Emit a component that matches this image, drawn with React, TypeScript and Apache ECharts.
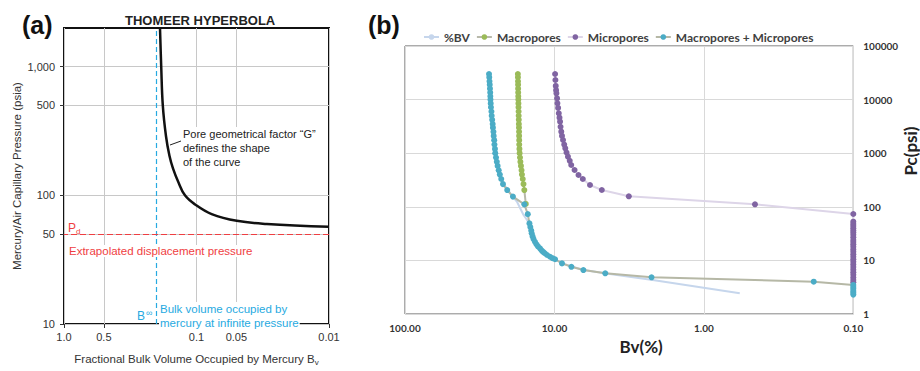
import React, { useEffect, useRef } from 'react';
import * as echarts from 'echarts';

// ---------- Panel (a): Thomeer hyperbola ----------
const thomeerBv = [0.1886, 0.1846, 0.1796, 0.1699, 0.16, 0.1505, 0.1372, 0.1222, 0.1026, 0.0768, 0.0497, 0.0295, 0.01];
const thomeerPc = [2000, 1000, 500, 288, 203, 162, 127, 100, 85, 71.5, 63.4, 60, 57.0];
const aXTicks = [1, 0.5, 0.1, 0.05, 0.01];
const aYTicks = [10, 50, 100, 500, 1000];
const bInfinity = 0.2;
const pDisplacement = 50;

// ---------- Panel (b): Bv(%) vs Pc(psi) ----------
const bvPctBV = [27.4, 26.8, 24.8, 23.0, 21.5, 19.5, 17.8, 16.1, 14.7, 14.2, 13.5, 12.5, 11.5, 10.6, 9.9, 8.8, 7.6, 6.3, 4.5, 2.2, 0.575];
const pcPctBV = [30000, 10000, 1000, 400, 250, 170, 124, 70.3, 49.2, 32, 22.3, 16.8, 13.6, 11.7, 10.5, 8.8, 7.6, 6.6, 5.7, 4.3, 2.43];

const bvMacro = [17.57, 17.55, 17.53, 17.51, 17.5, 17.48, 17.46, 17.44, 17.42, 17.4, 17.37, 17.35, 17.32, 17.3, 17.27, 17.25, 17.23, 17.21, 17.2, 17.15, 17.1, 17.0, 16.9, 16.75, 16.6, 16.5, 16.3, 16.1, 15.9, 15.55];
const pcMacro = [30000, 26000, 22000, 19000, 16000, 13500, 11500, 10000, 8500, 7200, 6000, 5000, 4200, 3500, 3000, 2500, 2100, 1750, 1450, 1200, 1000, 830, 690, 580, 480, 400, 330, 265, 205, 113];

const bvMicro = [9.9, 9.85, 9.8, 9.75, 9.7, 9.6, 9.55, 9.45, 9.35, 9.25, 9.17, 9.1, 9.0, 8.9, 8.76, 8.6, 8.46, 8.3, 8.12, 7.9, 7.72, 7.33, 6.9, 6.46, 5.78, 4.82, 3.18, 0.455, 0.1,
  0.1, 0.1, 0.1, 0.1, 0.1, 0.1, 0.1, 0.1, 0.1, 0.1, 0.1, 0.1, 0.1, 0.1, 0.1, 0.1, 0.1, 0.1, 0.1, 0.1, 0.1, 0.1, 0.1, 0.1, 0.1, 0.1];
const pcMicro = [30000, 23200, 18000, 15000, 13100, 10500, 8530, 7000, 5550, 4600, 3870, 3100, 2520, 2100, 1762, 1450, 1234, 1030, 860, 720, 603, 486, 392, 330, 255, 206, 157, 111.4, 73.4,
  52.7, 48, 44, 40, 36, 33, 30, 27, 24, 22, 20, 18, 16, 14.5, 13, 11.7, 10.5, 9.4, 8.4, 7.5, 6.7, 6.0, 5.4, 4.8, 4.3, 3.9];

const bvTotal = [27.4, 27.3, 27.2, 27.1, 27.0, 26.9, 26.85, 26.8, 26.7, 26.6, 26.4, 26.3, 26.1, 25.9, 25.8, 25.6, 25.5, 25.3, 25.2, 25.0, 24.9, 24.6, 24.3, 24.0, 23.6, 23.2, 22.7, 22.1, 20.7, 18.96, 15.9, 15.08, 14.7,
  14.5, 14.3, 14.2, 14.0, 13.8, 13.5, 13.2, 12.9, 12.5, 12.2, 11.9, 11.6, 11.2, 10.7, 10.3, 9.9, 8.9, 7.7, 6.4, 4.57, 2.24, 0.184, 0.1, 0.1, 0.1, 0.1, 0.1, 0.1];
const pcTotal = [30000, 26000, 22000, 19000, 16000, 13500, 11500, 10000, 8500, 7200, 6000, 5000, 4200, 3500, 3000, 2500, 2100, 1750, 1450, 1200, 1000, 830, 690, 580, 480, 400, 330, 265, 205, 155, 111, 73, 49,
  42, 36, 32, 28, 25, 22.3, 20, 18.3, 16.8, 15.4, 14.4, 13.6, 12.6, 11.7, 11.0, 10.5, 8.8, 7.6, 6.6, 5.74, 4.83, 4.01, 3.48, 3.2, 2.95, 2.7, 2.5, 2.3];

const legendNames = ['%BV', 'Macropores', 'Micropores', 'Macropores + Micropores'];

const pairs = (xs: number[], ys: number[]) => xs.map((x, i) => [x, ys[i]]);

const fontA = "'Liberation Sans', Arial, sans-serif";
const fontB = "Lato, 'Open Sans', sans-serif";
const red = '#ef3e42';
const blue = '#27aae1';

export default function App() {
  const ref = useRef<HTMLDivElement>(null);
  useEffect(() => {
    document.body.style.margin = '0';
    if (!ref.current) return;
    const chart = echarts.init(ref.current, null, { renderer: 'svg' });
    const option: any = {
      animation: false,
      backgroundColor: '#fff',
      title: [
        { text: 'THOMEER HYPERBOLA', left: 120, top: 9, textStyle: { fontFamily: fontA, fontSize: 13, fontWeight: 'bold', color: '#222' } },
        { text: '(a)', left: 17, top: 7, textStyle: { fontFamily: fontA, fontSize: 25, fontWeight: 'bold', color: '#111' } },
        { text: '(b)', left: 363, top: 7, textStyle: { fontFamily: fontA, fontSize: 25, fontWeight: 'bold', color: '#111' } },
      ],
      legend: {
        left: 418, top: 26, itemWidth: 15, itemHeight: 7, itemGap: 6,
        data: legendNames,
        textStyle: { fontFamily: fontB, fontSize: 12, fontWeight: 'bold', color: '#404040' },
      },
      grid: [
        { left: 64, top: 28, width: 265, height: 305, show: true, borderColor: '#111', borderWidth: 2, backgroundColor: 'transparent' },
        { left: 405, top: 46, width: 454, height: 268, show: true, borderColor: '#595959', borderWidth: 1, backgroundColor: 'transparent' },
      ],
      xAxis: [
        {
          type: 'log', gridIndex: 0, min: 0.01, max: 1, inverse: true,
          name: 'Fractional Bulk Volume Occupied by Mercury B{sub|v}',
          nameLocation: 'middle', nameGap: 27,
          nameTextStyle: { fontFamily: fontA, fontSize: 11.5, color: '#333', rich: { sub: { fontFamily: fontA, fontSize: 8, color: '#333', padding: [7, 0, 0, 0] } } },
          axisLine: { show: false },
          axisTick: { show: true, length: 4, customValues: aXTicks, lineStyle: { color: '#333' } },
          axisLabel: { customValues: aXTicks, margin: 7, fontFamily: fontA, fontSize: 11, color: '#333', formatter: (v: number) => (v === 1 ? '1.0' : String(v)) },
          splitLine: { show: true, lineStyle: { color: '#c8c8c8', width: 1 } },
        },
        {
          type: 'log', gridIndex: 1, min: 0.1, max: 100, inverse: true,
          name: 'Bv(%)', nameLocation: 'middle', nameGap: 24,
          nameTextStyle: { fontFamily: fontB, fontSize: 17, fontWeight: 'bold', color: '#222', padding: [0, 0, 0, 24] },
          axisLine: { show: false },
          axisTick: { show: false },
          axisLabel: { margin: 9, fontFamily: fontB, fontSize: 10, fontWeight: 'bold', color: '#333', formatter: (v: number) => v.toFixed(2) },
          splitLine: { show: true, lineStyle: { color: '#d9d9d9', width: 1 } },
        },
      ],
      yAxis: [
        {
          type: 'log', gridIndex: 0, min: 10, max: 2000,
          name: 'Mercury/Air Capillary Pressure (psia)', nameLocation: 'middle', nameGap: 41,
          nameTextStyle: { fontFamily: fontA, fontSize: 11.5, color: '#333' },
          axisLine: { show: false },
          axisTick: { show: true, length: 4, customValues: aYTicks, lineStyle: { color: '#333' } },
          axisLabel: { customValues: aYTicks, margin: 9, fontFamily: fontA, fontSize: 11, color: '#333', formatter: (v: number) => (v === 1000 ? '1,000' : String(v)) },
          splitLine: { show: true, lineStyle: { color: '#c8c8c8', width: 1 } },
        },
        {
          type: 'log', gridIndex: 1, min: 1, max: 100000, position: 'right',
          name: 'Pc(psi)', nameLocation: 'middle', nameGap: 44,
          nameTextStyle: { fontFamily: fontB, fontSize: 17, fontWeight: 'bold', color: '#222', padding: [0, 0, 0, 58] },
          axisLine: { show: false },
          axisTick: { show: false },
          axisLabel: { margin: 10, fontFamily: fontB, fontSize: 10, fontWeight: 'bold', color: '#333', formatter: (v: number) => String(Math.round(v)) },
          splitLine: { show: true, lineStyle: { color: '#d9d9d9', width: 1 } },
        },
      ],
      series: [
        {
          name: 'Thomeer', type: 'line', xAxisIndex: 0, yAxisIndex: 0, smooth: 0.4, symbol: 'none',
          data: pairs(thomeerBv, thomeerPc),
          lineStyle: { color: '#111', width: 2.5 },
          markLine: {
            silent: true, symbol: 'none', label: { show: false },
            data: [
              { xAxis: bInfinity, lineStyle: { color: blue, type: [5, 3], width: 1.2 } },
              { yAxis: pDisplacement, lineStyle: { color: red, type: [6, 3], width: 1.2 } },
            ],
          },
        },
        {
          name: '%BV', type: 'line', xAxisIndex: 1, yAxisIndex: 1, symbol: 'none', clip: false,
          data: pairs(bvPctBV, pcPctBV),
          itemStyle: { color: '#c6d6ec' },
          lineStyle: { color: '#c6d6ec', width: 2 },
        },
        {
          name: 'Macropores', type: 'line', xAxisIndex: 1, yAxisIndex: 1, symbol: 'circle', symbolSize: 6, clip: false,
          data: pairs(bvMacro, pcMacro),
          itemStyle: { color: '#9bbb59' },
          lineStyle: { color: '#b8b9ab', width: 2 },
        },
        {
          name: 'Micropores', type: 'line', xAxisIndex: 1, yAxisIndex: 1, symbol: 'circle', symbolSize: 6, clip: false,
          data: pairs(bvMicro, pcMicro),
          itemStyle: { color: '#8064a2' },
          lineStyle: { color: '#ddd5e8', width: 2 },
        },
        {
          name: 'Macropores + Micropores', type: 'line', xAxisIndex: 1, yAxisIndex: 1, symbol: 'circle', symbolSize: 6, clip: false,
          data: pairs(bvTotal, pcTotal),
          itemStyle: { color: '#4bacc6' },
          lineStyle: { color: '#b6b8a6', width: 2 },
        },
      ],
      graphic: [
        { type: 'text', z: 100, left: 182, top: 127, style: { text: 'Pore geometrical factor \u201CG\u201D\ndefines the shape\nof the curve', fontFamily: fontA, fontSize: 11, lineHeight: 14, fill: '#222', backgroundColor: '#fff', padding: [0, 1, 0, 1] } },
        { type: 'line', z: 100, shape: { x1: 181, y1: 141, x2: 170, y2: 145 }, style: { stroke: '#222', lineWidth: 1 } },
        { type: 'text', z: 100, left: 68, top: 222, style: { text: 'P{d|d}', fontFamily: fontA, fontSize: 12, fill: red, rich: { d: { fontFamily: fontA, fontSize: 8, fill: red, padding: [7, 0, 0, 0] } } } },
        { type: 'text', z: 100, left: 69, top: 245, style: { text: 'Extrapolated displacement pressure', fontFamily: fontA, fontSize: 11.5, fill: red, backgroundColor: '#fff' } },
        { type: 'text', z: 100, left: 137, top: 308, style: { text: 'B{s|\u221E}', fontFamily: fontA, fontSize: 12, fill: blue, rich: { s: { fontFamily: fontA, fontSize: 9, fill: blue, padding: [0, 0, 6, 1] } } } },
        { type: 'text', z: 100, left: 159, top: 302, style: { text: 'Bulk volume occupied by\nmercury at infinite pressure', fontFamily: fontA, fontSize: 11.5, lineHeight: 14, fill: blue, backgroundColor: '#fff', padding: [0, 1, 0, 1] } },
      ],
    };
    chart.setOption(option);
    return () => chart.dispose();
  }, []);
  return <div ref={ref} style={{ width: 920, height: 371 }} />;
}
